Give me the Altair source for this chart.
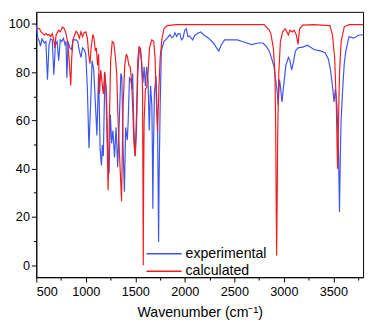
import altair as alt
import pandas as pd

exp_wn = [500, 516, 532, 542, 558, 581, 597, 613, 629, 645, 661, 677, 693, 710, 726, 742, 758, 774, 790, 800,
          809, 822, 838, 855, 871, 903, 919, 935, 951, 967, 984, 1000, 1016, 1032, 1048, 1064, 1080, 1096, 1112, 1129,
          1145, 1158, 1167, 1177, 1193, 1209, 1219, 1235, 1248, 1261, 1274, 1290, 1306, 1322, 1338, 1354, 1364, 1377,
          1390, 1402, 1419, 1428, 1441, 1454, 1467, 1473, 1486, 1499, 1512, 1525, 1538, 1551, 1564, 1577, 1589, 1602,
          1615, 1628, 1641, 1654, 1667, 1673, 1677, 1682, 1693, 1709, 1725, 1731, 1735, 1740, 1751, 1763, 1789, 1822,
          1850, 1870, 1886, 1900, 1918, 1934, 1950, 1966, 1982, 1999, 2015, 2031, 2047, 2079, 2100, 2127, 2160, 2192,
          2240, 2289, 2321, 2343, 2369, 2401, 2466, 2530, 2579, 2627, 2675, 2740, 2788, 2820, 2852, 2878, 2901, 2917,
          2933, 2943, 2956, 2965, 2981, 2998, 3020, 3046, 3062, 3078, 3094, 3117, 3143, 3191, 3239, 3304, 3368, 3417,
          3449, 3471, 3491, 3507, 3520, 3536, 3552, 3562, 3570, 3578, 3594, 3610, 3626, 3658, 3707, 3755, 3800]
exp_t = [99.3, 94.1, 92.7, 90.8, 93.8, 92.1, 92.7, 76.9, 91.4, 93.8, 93.4, 78.9, 91.4, 92.7, 84.8, 93.4, 92.7, 94.1,
         91.4, 92.7, 77.6, 92.7, 90.1, 89.4, 93.4, 93.4, 92.7, 88.8, 86.1, 90.1, 89.4, 87.5, 73.0, 48.5, 66.3, 84.8,
         80.9, 67.7, 53.8, 79.5, 47.9, 41.3, 49.8, 45.2, 79.5, 71.6, 50.5, 38.0, 62.4, 50.5, 55.8, 44.6, 57.1, 40.6,
         59.7, 79.5, 78.2, 47.9, 30.4, 57.1, 51.8, 59.7, 77.6, 76.9, 73.0, 79.5, 55.8, 45.2, 55.8, 79.5, 88.1, 90.1,
         83.5, 75.6, 82.2, 74.3, 82.2, 76.9, 55.8, 74.3, 66.3, 45.0, 23.4, 45.0, 71.6, 78.2, 55.8, 30.0, 9.6, 35.0,
         66.3, 88.8, 92.7, 94.1, 95.5, 94.3, 94.7, 96.3, 94.8, 96.0, 96.0, 93.4, 94.1, 97.4, 98.0, 94.7, 95.0, 93.4,
         95.2, 96.0, 96.7, 95.4, 94.1, 92.1, 90.1, 88.8, 91.4, 93.4, 93.4, 93.4, 92.7, 92.1, 91.4, 92.1, 92.1, 90.8,
         88.8, 85.5, 82.2, 76.9, 71.6, 66.3, 76.9, 74.3, 67.7, 74.3, 82.8, 86.1, 84.8, 80.9, 83.5, 88.8, 90.1, 90.4,
         91.2, 89.4, 88.8, 88.1, 85.5, 80.9, 74.3, 67.7, 73.0, 66.3, 46.5, 22.0, 45.0, 59.7, 73.0, 83.5, 88.8, 94.7,
         94.1, 95.4, 95.4]

calc_wn = [500, 532, 548, 565, 581, 597, 613, 629, 645, 661, 677, 687, 700, 726, 742, 764, 784, 800, 816, 832, 848,
           858, 871, 887, 903, 919, 935, 951, 967, 984, 1000, 1016, 1029, 1042, 1054, 1071, 1083, 1096, 1106, 1119,
           1129, 1138, 1151, 1164, 1177, 1190, 1203, 1216, 1225, 1232, 1238, 1251, 1267, 1283, 1299, 1312, 1325, 1341,
           1352, 1361, 1368, 1377, 1393, 1409, 1422, 1435, 1448, 1461, 1473, 1486, 1499, 1512, 1525, 1538, 1551, 1564,
           1573, 1577, 1580, 1584, 1589, 1602, 1615, 1628, 1644, 1667, 1686, 1699, 1712, 1725, 1738, 1751, 1770, 1789,
           1822, 1918, 2800, 2850, 2869, 2894, 2910, 2918, 2923, 2927, 2932, 2938, 2949, 2965, 2988, 3014, 3046, 3062,
           3085, 3104, 3126, 3143, 3159, 3191, 3300, 3465, 3491, 3513, 3530, 3542, 3552, 3562, 3578, 3610, 3658, 3800]
calc_t = [98.3, 98.0, 96.7, 96.0, 95.4, 96.0, 95.4, 95.6, 94.7, 96.0, 93.4, 90.1, 95.4, 97.4, 96.7, 98.7, 98.0, 96.0,
          92.7, 84.8, 74.5, 86.1, 93.4, 95.4, 97.0, 96.0, 94.1, 96.7, 94.7, 96.4, 96.7, 94.1, 87.5, 83.5, 90.1, 95.6,
          94.1, 88.8, 90.1, 82.8, 87.5, 71.0, 80.9, 75.6, 71.0, 80.2, 73.0, 50.5, 31.0, 45.0, 59.7, 84.8, 92.7, 92.1,
          86.1, 79.5, 61.0, 45.2, 35.0, 26.5, 45.0, 66.3, 82.8, 87.5, 86.1, 82.8, 82.2, 76.9, 66.3, 50.5, 45.2, 62.4,
          84.8, 90.8, 89.4, 84.2, 73.0, 35.0, 0.0, 35.0, 59.7, 73.0, 73.6, 79.5, 90.1, 93.4, 92.7, 86.1, 69.0, 55.1,
          73.0, 86.1, 94.1, 98.0, 99.3, 99.7, 99.7, 97.5, 96.0, 90.0, 79.5, 55.0, 25.0, 4.0, 25.0, 55.0, 79.5, 92.7,
          96.7, 98.0, 95.4, 97.4, 96.7, 97.4, 95.4, 91.5, 98.0, 99.5, 99.7, 99.3, 95.4, 86.1, 66.3, 40.0, 60.0, 79.5,
          92.7, 98.8, 99.7, 99.7]

series_names = ["experimental", "calculated"]
series_colors = ["#3a55f0", "#f21c1c"]
x_ticks = [500, 750, 1000, 1250, 1500, 1750, 2000, 2250, 2500, 2750, 3000, 3250, 3500, 3750]
y_ticks = [0, 10, 20, 30, 40, 50, 60, 70, 80, 90, 100]

df_exp = pd.DataFrame({"wn": exp_wn, "t": exp_t, "series": series_names[0]})
df_calc = pd.DataFrame({"wn": calc_wn, "t": calc_t, "series": series_names[1]})

FONT = "Liberation Sans"

x_enc = alt.X("wn:Q", scale=alt.Scale(domain=[500, 3800], nice=False, zero=False),
              axis=alt.Axis(title="Wavenumber (cm⁻¹)", values=x_ticks,
                            labelExpr="datum.value % 500 === 0 ? datum.label : ''",
                            tickSize={"condition": {"test": "datum.value % 500 === 0", "value": 5}, "value": 3},
                            format="d", grid=False, labelPadding=4, titlePadding=7,
                            labelFontSize=13, titleFontSize=14.5, labelColor="black", titleColor="black",
                            titleFontWeight="normal", domainColor="black", tickColor="black"))
y_enc = alt.Y("t:Q", scale=alt.Scale(domain=[-5, 105], nice=False, zero=False),
              axis=alt.Axis(title=None, values=y_ticks,
                            labelExpr="datum.value % 20 === 0 ? datum.label : ''",
                            tickSize={"condition": {"test": "datum.value % 20 === 0", "value": 5}, "value": 3},
                            grid=False, labelPadding=2, labelFontSize=13, labelColor="black",
                            domainColor="black", tickColor="black"))
color_enc = alt.Color("series:N",
                      scale=alt.Scale(domain=series_names, range=series_colors),
                      legend=alt.Legend(title=None, orient="none", legendX=121, legendY=238,
                                        symbolType="M-2,0H2", symbolSize=324, symbolStrokeWidth=1.5,
                                        labelFontSize=14.5, labelOffset=12, rowPadding=1, padding=0,
                                        labelColor="black"))

exp_line = alt.Chart(df_exp).mark_line(strokeWidth=1.2).encode(x=x_enc, y=y_enc, color=color_enc)
calc_line = alt.Chart(df_calc).mark_line(strokeWidth=1.2).encode(x=x_enc, y=y_enc, color=color_enc)

chart = alt.layer(exp_line, calc_line).properties(
    width=335, height=272, padding=0
).configure(font=FONT).configure_view(stroke="black", strokeWidth=1)

chart.save("out.html", embed_options={"renderer": "svg", "actions": False})
